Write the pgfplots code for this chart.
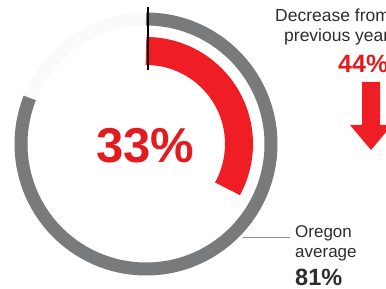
\documentclass[border=0pt]{standalone}
\usepackage{pgfplots}
\usepackage{pgfplotstable}
\pgfplotsset{compat=1.18}
\usepackage{fontspec}
\setmainfont{Liberation Sans}
\definecolor{ringgray}{RGB}{120,122,123}
\definecolor{ringred}{RGB}{238,30,36}
\definecolor{txtred}{RGB}{226,28,30}
\definecolor{txtdark}{RGB}{45,45,45}
\pgfplotstableread{
series value
current 33
oregon 81
}\ringdata
\pgfplotstablegetelem{0}{value}\of\ringdata \edef\curval{\pgfplotsretval}
\pgfplotstablegetelem{1}{value}\of\ringdata \edef\orval{\pgfplotsretval}
\begin{document}
\begin{tikzpicture}
\begin{axis}[
  scale only axis, width=386pt, height=289pt,
  xmin=0, xmax=386, ymin=0, ymax=289,
  hide axis, clip=false,
]
% faint track of the outer ring
\draw[gray!4, line width=13pt] (axis cs:146,145) circle[radius=125pt];
% Oregon average ring
\draw[ringgray, line width=13pt, line cap=butt]
  (axis cs:146,145) ++(90:125pt) arc[start angle=90, end angle={90-3.6*\orval}, radius=125pt];
% current value ring
\draw[ringred, line width=28pt, line cap=butt]
  (axis cs:146,145) ++(90:93pt) arc[start angle=90, end angle={90-3.6*\curval}, radius=93pt];
% black start marker
\draw[black, line width=2pt] (axis cs:147.5,282) -- (axis cs:147.5,219);
% leader line
\draw[ringgray!80, line width=0.9pt] (axis cs:243,52) -- (axis cs:290,52);
% arrow
\fill[ringred] (axis cs:362,207) -- (axis cs:380,207) -- (axis cs:380,164) -- (axis cs:392,164)
  -- (axis cs:371,139) -- (axis cs:350,164) -- (axis cs:362,164) -- cycle;
% texts
\node[anchor=base, txtred, font=\fontsize{49}{52}\selectfont\bfseries] at (axis cs:145.5,126) {\curval\%};
\node[anchor=base west, inner sep=0, txtdark, font=\fontsize{17.5}{19}\selectfont] at (axis cs:275,267) {Decrease from};
\node[anchor=base west, inner sep=0, txtdark, font=\fontsize{17.5}{19}\selectfont] at (axis cs:284,247) {previous year};
\node[anchor=base west, inner sep=0, txtred, font=\fontsize{25}{27}\selectfont\bfseries] at (axis cs:338,216) {44\%};
\node[anchor=base west, inner sep=0, txtdark, font=\fontsize{17}{18}\selectfont] at (axis cs:295,51) {Oregon};
\node[anchor=base west, inner sep=0, txtdark, font=\fontsize{17}{18}\selectfont] at (axis cs:295,31) {average};
\node[anchor=base west, inner sep=0, txtdark, font=\fontsize{23.5}{25}\selectfont\bfseries] at (axis cs:295,3.5) {\orval\%};
\end{axis}
\pgfresetboundingbox
\path[use as bounding box] (0,0) rectangle (386pt,289pt);
\end{tikzpicture}
\end{document}
